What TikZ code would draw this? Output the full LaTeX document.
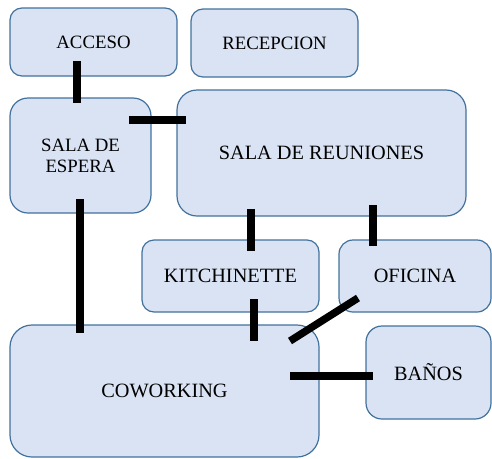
\documentclass[tikz,border=0pt]{standalone}
\usepackage{fontspec}
\setmainfont{Liberation Serif}
\definecolor{fillc}{HTML}{DAE3F3}
\definecolor{bord}{HTML}{41719C}
\begin{document}
\begin{tikzpicture}[x=1pt,y=-1pt,
  room/.style={draw=bord, fill=fillc, line width=1.2pt, inner sep=0pt, align=center,
    font=\fontsize{20.3}{22}\selectfont, text=black},
  small/.style={font=\fontsize{18.8}{21}\selectfont},
  link/.style={line width=7.5pt, black, line cap=butt}]
\useasboundingbox (0,0) rectangle (492,458);
% rooms: centre, width, height
\node[room, small, rounded corners=12pt, minimum width=167pt, minimum height=68pt] (acceso) at (93.5,42) {ACCESO};
\node[room, small, rounded corners=12pt, minimum width=167pt, minimum height=68pt] (recep) at (274.5,43) {RECEPCION};
\node[room, small, rounded corners=18pt, minimum width=141pt, minimum height=115pt] (espera) at (80.5,155.5) {SALA DE\\ESPERA};
\node[room, rounded corners=20pt, minimum width=289pt, minimum height=126pt] (reun) at (321.5,153) {SALA DE REUNIONES};
\node[room, rounded corners=12pt, minimum width=177pt, minimum height=72pt] (kitch) at (230.5,276) {KITCHINETTE};
\node[room, rounded corners=14pt, minimum width=152pt, minimum height=72pt] (ofic) at (415,276) {OFICINA};
\node[room, rounded corners=22pt, minimum width=309pt, minimum height=132pt] (cowork) at (164.5,391) {COWORKING};
\node[room, rounded corners=16pt, minimum width=125pt, minimum height=93pt] (banos) at (428.5,372.5) {BAÑOS};
% connector end points
\coordinate (a1) at (77,61);   \coordinate (a2) at (77,103);
\coordinate (b1) at (129,120); \coordinate (b2) at (186,120);
\coordinate (c1) at (80,199);  \coordinate (c2) at (80,333);
\coordinate (d1) at (251,209); \coordinate (d2) at (251,251);
\coordinate (e1) at (373,205); \coordinate (e2) at (373,246);
\coordinate (f1) at (254,299); \coordinate (f2) at (254,341);
\coordinate (g1) at (290,341); \coordinate (g2) at (358,298);
\coordinate (h1) at (290,376); \coordinate (h2) at (373,376);
\draw[link] (a1) -- (a2);
\draw[link] (b1) -- (b2);
\draw[link] (c1) -- (c2);
\draw[link] (d1) -- (d2);
\draw[link] (e1) -- (e2);
\draw[link] (f1) -- (f2);
\draw[link] (g1) -- (g2);
\draw[link] (h1) -- (h2);
\end{tikzpicture}
\end{document}
